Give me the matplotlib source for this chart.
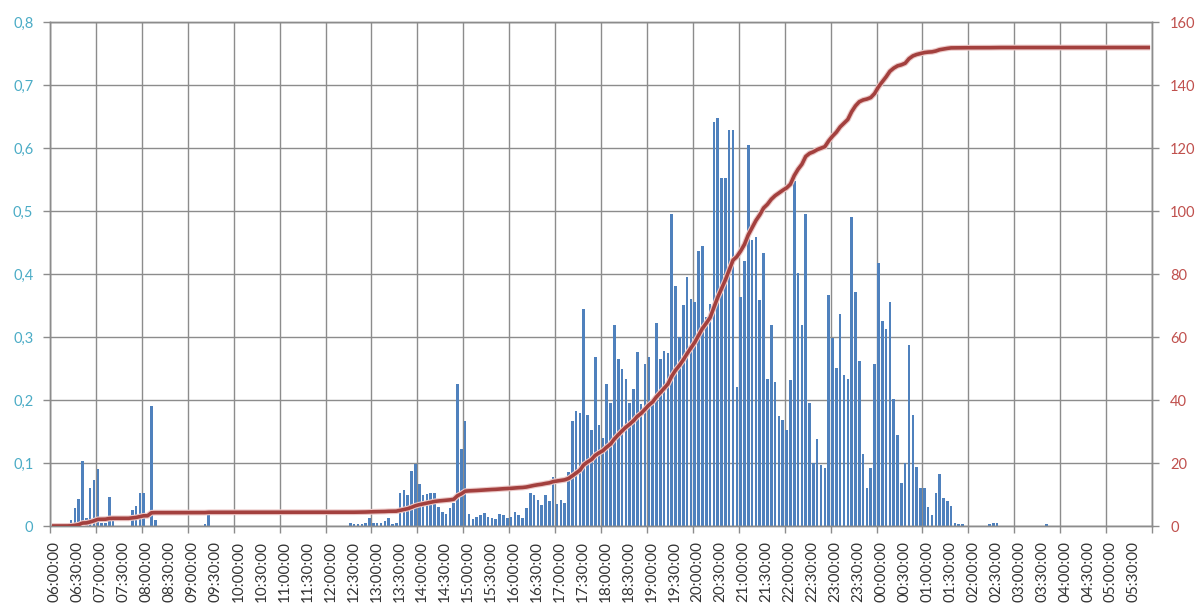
import numpy as np
import matplotlib
matplotlib.use("Agg")
import matplotlib.pyplot as plt
import matplotlib.transforms as mtransforms

# intensidad cada 5 minutos, una fila por hora (06:00 ... 05:00)
intensidad = [
    0, 0, 0, 0, 0.003, 0.01, 0.028, 0.043, 0.103, 0.012, 0.06, 0.073,          # 06
    0.09, 0.005, 0.005, 0.046, 0.01, 0, 0, 0, 0, 0.026, 0.031, 0.052,          # 07
    0.052, 0, 0.19, 0.01, 0, 0, 0, 0, 0, 0, 0, 0,                               # 08
    0, 0, 0, 0, 0.003, 0.017, 0, 0, 0, 0, 0, 0,                                 # 09
    0, 0, 0, 0, 0, 0, 0, 0, 0, 0, 0, 0,                                         # 10
    0, 0, 0, 0, 0, 0, 0, 0, 0, 0, 0, 0,                                         # 11
    0, 0, 0, 0, 0, 0, 0.004, 0.003, 0.003, 0.003, 0.005, 0.012,                 # 12
    0.005, 0.004, 0.005, 0.008, 0.013, 0.003, 0.005, 0.053, 0.057, 0.05, 0.087, 0.098,   # 13
    0.066, 0.049, 0.051, 0.053, 0.053, 0.03, 0.022, 0.019, 0.029, 0.037, 0.226, 0.122,  # 14
    0.167, 0.019, 0.011, 0.014, 0.017, 0.02, 0.014, 0.012, 0.011, 0.019, 0.017, 0.013,  # 15
    0.015, 0.023, 0.017, 0.013, 0.029, 0.053, 0.049, 0.042, 0.034, 0.049, 0.039, 0.077, # 16
    0.035, 0.041, 0.037, 0.086, 0.166, 0.183, 0.18, 0.344, 0.176, 0.152, 0.268, 0.16,   # 17
    0.14, 0.225, 0.195, 0.319, 0.265, 0.249, 0.233, 0.195, 0.217, 0.276, 0.194, 0.257,  # 18
    0.268, 0.2, 0.323, 0.265, 0.278, 0.274, 0.496, 0.381, 0.3, 0.351, 0.396, 0.361,     # 19
    0.356, 0.437, 0.444, 0.332, 0.353, 0.642, 0.647, 0.552, 0.552, 0.629, 0.629, 0.221, # 20
    0.364, 0.42, 0.605, 0.454, 0.459, 0.359, 0.433, 0.234, 0.319, 0.228, 0.174, 0.168,  # 21
    0.152, 0.232, 0.547, 0.401, 0.319, 0.496, 0.195, 0.1, 0.138, 0.097, 0.092, 0.367,   # 22
    0.298, 0.251, 0.337, 0.24, 0.234, 0.49, 0.372, 0.262, 0.114, 0.061, 0.092, 0.257,   # 23
    0.417, 0.325, 0.313, 0.355, 0.201, 0.144, 0.068, 0.1, 0.287, 0.176, 0.093, 0.06,    # 00
    0.06, 0.03, 0.017, 0.053, 0.083, 0.044, 0.039, 0.032, 0.004, 0.003, 0.003, 0,       # 01
    0, 0, 0, 0, 0, 0.003, 0.005, 0.004, 0, 0, 0, 0,                             # 02
    0, 0, 0, 0, 0, 0, 0, 0, 0.003, 0, 0, 0,                                     # 03
    0, 0, 0, 0, 0, 0, 0, 0, 0, 0, 0, 0,                                         # 04
    0, 0, 0, 0, 0, 0, 0, 0, 0, 0, 0, 0,                                         # 05
]

etiquetas = ["06:00:00", "06:30:00", "07:00:00", "07:30:00", "08:00:00", "08:30:00",
             "09:00:00", "09:30:00", "10:00:00", "10:30:00", "11:00:00", "11:30:00",
             "12:00:00", "12:30:00", "13:00:00", "13:30:00", "14:00:00", "14:30:00",
             "15:00:00", "15:30:00", "16:00:00", "16:30:00", "17:00:00", "17:30:00",
             "18:00:00", "18:30:00", "19:00:00", "19:30:00", "20:00:00", "20:30:00",
             "21:00:00", "21:30:00", "22:00:00", "22:30:00", "23:00:00", "23:30:00",
             "00:00:00", "00:30:00", "01:00:00", "01:30:00", "02:00:00", "02:30:00",
             "03:00:00", "03:30:00", "04:00:00", "04:30:00", "05:00:00", "05:30:00"]

ticks_izq = [0, 0.1, 0.2, 0.3, 0.4, 0.5, 0.6, 0.7, 0.8]
ticks_izq_txt = ["0", "0,1", "0,2", "0,3", "0,4", "0,5", "0,6", "0,7", "0,8"]
ticks_der = [0, 20, 40, 60, 80, 100, 120, 140, 160]

plt.rcParams["font.family"] = ["Lato", "DejaVu Sans"]

intensidad = np.array(intensidad)
n = len(intensidad)
x = np.arange(n) + 0.5
# acumulado: intensidad (por minuto) * 5 minutos
acumulado = np.cumsum(intensidad) * 5

fig = plt.figure(figsize=(11.98, 6.08), dpi=100)
ax = fig.add_axes([50/1198, 1 - 526/608, 1102/1198, 504/608])

gris = "#8c8c8c"
ax.bar(x, intensidad, width=0.68, color="#4f81bd", zorder=2)
ax.set_xlim(0, n)
ax.set_ylim(0, 0.8)
ax.set_axisbelow(True)

ax.set_yticks(ticks_izq)
ax.set_yticklabels(ticks_izq_txt)
ax.yaxis.grid(True, color=gris, linewidth=1.0)

ax.set_xticks(np.arange(0, n, 6) + 0.5)
ax.set_xticklabels(etiquetas, rotation=90, fontsize=11, color="#333333")
ax.set_xticks(np.arange(0, n + 1, 12), minor=True)
ax.xaxis.grid(True, which="minor", color=gris, linewidth=1.0)
ax.tick_params(axis="x", which="major", length=0, pad=11)
ax.tick_params(axis="x", which="minor", length=5, color=gris, width=1)
ax.tick_params(axis="y", length=5, color=gris, width=1, labelsize=10.5,
               labelcolor="#4bacc6", pad=7)

# etiquetas de hora un poco corridas a la derecha, como en Excel
desplaza = mtransforms.ScaledTranslation(3/100, 0, fig.dpi_scale_trans)
for lab in ax.get_xticklabels():
    lab.set_transform(lab.get_transform() + desplaza)

for s in ax.spines.values():
    s.set_color(gris)
    s.set_linewidth(1.0)

ax2 = ax.twinx()
ax2.plot(x, acumulado, color="#ecc9c8", linewidth=4.2, solid_capstyle="butt", zorder=3)
ax2.plot(x, acumulado, color="#a3403e", linewidth=2.6, solid_capstyle="butt", zorder=4)
ax2.set_ylim(0, 160)
ax2.set_yticks(ticks_der)
ax2.tick_params(axis="y", length=5, color=gris, width=1, labelsize=10.5,
                labelcolor="#c0504d", pad=8)
for s in ax2.spines.values():
    s.set_color(gris)
    s.set_linewidth(1.0)

plt.savefig("out.png", dpi=100)
